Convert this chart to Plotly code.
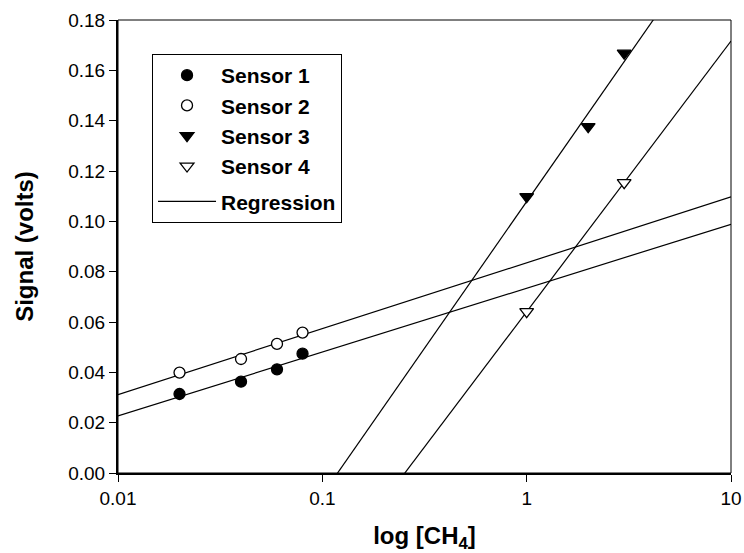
import numpy as np
import plotly.graph_objects as go

# ---- data ----
s1_x = [0.02, 0.04, 0.06, 0.08]
s1_y = [0.0314, 0.0363, 0.0412, 0.0474]
s2_x = [0.02, 0.04, 0.06, 0.08]
s2_y = [0.0399, 0.0453, 0.0513, 0.0558]
s3_x = [1, 2, 3]
s3_y = [0.1098, 0.1376, 0.1668]
s4_x = [1, 3]
s4_y = [0.0641, 0.1154]

x_range = [0.01, 10]
y_ticks = [0.00, 0.02, 0.04, 0.06, 0.08, 0.10, 0.12, 0.14, 0.16, 0.18]
x_ticks = [0.01, 0.1, 1, 10]
x_ticklabels = ["0.01", "0.1", "1", "10"]

FONT = "Liberation Sans, Arial, sans-serif"

fig = go.Figure()

# regression lines (least squares on log10 x)
series = [(s1_x, s1_y), (s2_x, s2_y), (s3_x, s3_y), (s4_x, s4_y)]
for i, (xs, ys) in enumerate(series):
    b, a = np.polyfit(np.log10(xs), ys, 1)
    lx = np.array(x_range)
    ly = a + b * np.log10(lx)
    fig.add_trace(go.Scatter(
        x=lx, y=ly, mode="lines",
        line=dict(color="black", width=1.2),
        name="Regression", legendgroup="reg",
        showlegend=(i == 0), legendrank=5,
    ))

marker_line = dict(color="black", width=1.3)
fig.add_trace(go.Scatter(x=s1_x, y=s1_y, mode="markers", name="Sensor 1",
                         marker=dict(symbol="circle", size=11, color="black", line=marker_line),
                         legendgroup="sens", legendrank=1))
fig.add_trace(go.Scatter(x=s2_x, y=s2_y, mode="markers", name="Sensor 2",
                         marker=dict(symbol="circle", size=11, color="white", line=marker_line),
                         legendgroup="sens", legendrank=2))
fig.add_trace(go.Scatter(x=s3_x, y=s3_y, mode="markers", name="Sensor 3",
                         marker=dict(symbol="triangle-down", size=12, color="black", line=marker_line),
                         legendgroup="sens", legendrank=3))
fig.add_trace(go.Scatter(x=s4_x, y=s4_y, mode="markers", name="Sensor 4",
                         marker=dict(symbol="triangle-down", size=12, color="white", line=marker_line),
                         legendgroup="sens", legendrank=4))

fig.update_layout(
    width=744, height=553,
    margin=dict(l=118, r=13, t=20, b=80),
    paper_bgcolor="white", plot_bgcolor="white",
    font=dict(family=FONT, size=19, color="black"),
    legend=dict(
        x=0.0555, y=0.925, xanchor="left", yanchor="top",
        bgcolor="white", bordercolor="black", borderwidth=1,
        font=dict(family=FONT, size=21, color="black", weight="bold"),
        traceorder="grouped", tracegroupgap=5,
        itemwidth=58, entrywidth=200,
    ),
    showlegend=True,
)

fig.update_xaxes(
    type="log", range=[np.log10(x_range[0]), np.log10(x_range[1])],
    tickvals=x_ticks, ticktext=x_ticklabels,
    ticks="outside", ticklen=7, tickwidth=1, tickcolor="black",
    showgrid=False, zeroline=False, automargin=False,
    showline=True, linecolor="black", linewidth=2,
    tickfont=dict(family=FONT, size=19),
    title=dict(text="log [CH<sub>4</sub>]", font=dict(family=FONT, size=24, weight="bold"), standoff=22),
)
fig.update_yaxes(
    range=[0, 0.18], tickvals=y_ticks, tickformat=".2f",
    ticks="outside", ticklen=7, tickwidth=1, tickcolor="black",
    showgrid=False, zeroline=False, automargin=False,
    showline=True, linecolor="black", linewidth=2,
    tickfont=dict(family=FONT, size=19),
    title=dict(text="Signal (volts)", font=dict(family=FONT, size=24, weight="bold"), standoff=28),
)

# thin frame (top / right)
fig.add_shape(type="rect", xref="x domain", yref="y domain", x0=0, x1=1, y0=0, y1=1,
              line=dict(color="black", width=1), layer="above")

fig.write_html("out.html", config={"displayModeBar": False},
               post_script="document.body.style.margin='0';")
